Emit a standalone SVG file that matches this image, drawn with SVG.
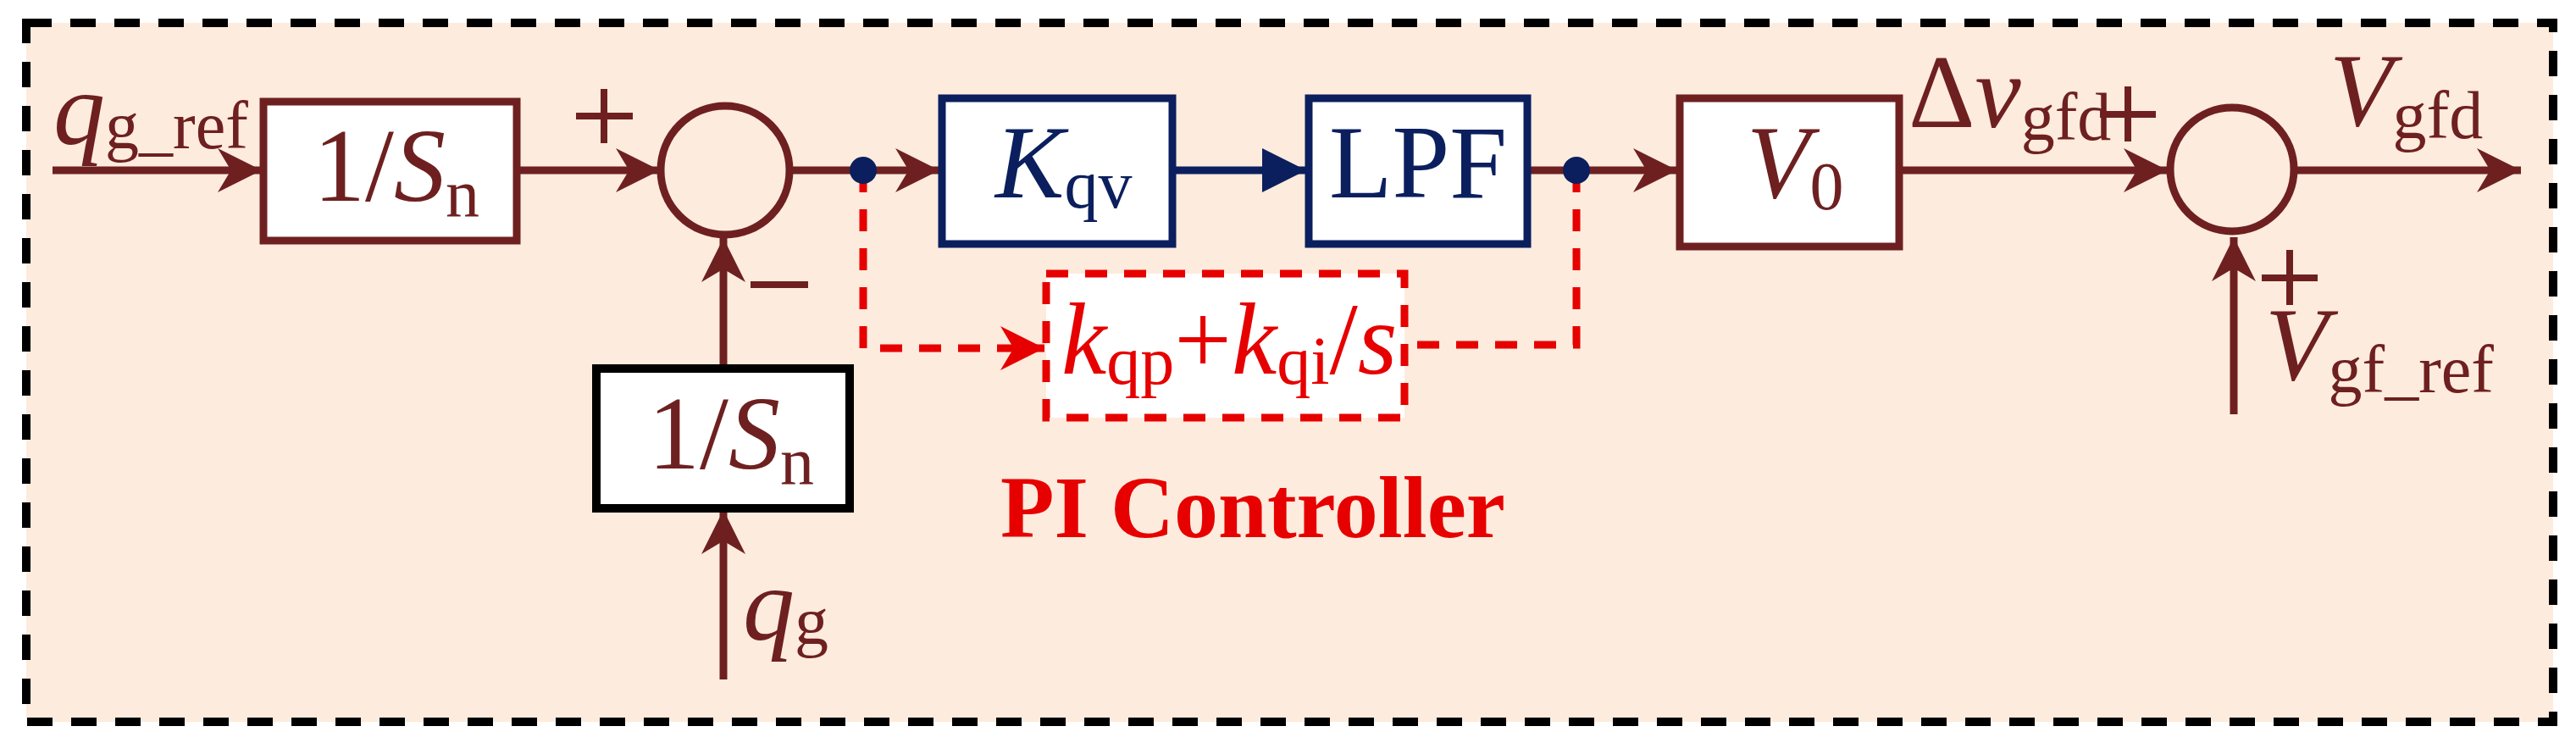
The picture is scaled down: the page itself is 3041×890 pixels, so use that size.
<svg xmlns="http://www.w3.org/2000/svg" width="3041" height="890" viewBox="0 0 3041 890">
<defs>
<style>
.br{stroke:#6E2020;stroke-width:9;fill:none}
.bl{stroke:#0B1F5E;stroke-width:9;fill:none}
.rd{stroke:#E60000;stroke-width:9;fill:none;stroke-dasharray:26 20}
.t{font-family:"Liberation Serif",serif;fill:#6E2020;font-size:122px}
.i{font-style:italic}
.s{font-size:80px}
</style>
<marker id="ab" viewBox="0 0 10 10" refX="10" refY="5" markerWidth="52" markerHeight="52" orient="auto" markerUnits="userSpaceOnUse"><path d="M0,0L10,5L0,10L3,5Z" fill="#6E2020"/></marker>
<marker id="au" viewBox="0 0 10 10" refX="10" refY="5" markerWidth="52" markerHeight="52" orient="auto" markerUnits="userSpaceOnUse"><path d="M0,0L10,5L0,10Z" fill="#0B1F5E"/></marker>
<marker id="ar" viewBox="0 0 10 10" refX="10" refY="5" markerWidth="52" markerHeight="52" orient="auto" markerUnits="userSpaceOnUse"><path d="M0,0L10,5L0,10L3,5Z" fill="#E60000"/></marker>
</defs>
<rect x="31" y="27" width="2983" height="825" fill="#FDEBDD" stroke="#000" stroke-width="10" stroke-dasharray="30 22"/>
<g id="connectors">
<line class="br" x1="62" y1="201" x2="309" y2="201" marker-end="url(#ab)"/>
<line class="br" x1="610" y1="201" x2="779" y2="201" marker-end="url(#ab)"/>
<line class="br" x1="854" y1="435" x2="854" y2="281" marker-end="url(#ab)"/>
<line class="br" x1="854" y1="802" x2="854" y2="602" marker-end="url(#ab)"/>
<line class="br" x1="931" y1="201" x2="1109" y2="201" marker-end="url(#ab)"/>
<line class="bl" x1="1384" y1="201" x2="1542" y2="201" marker-end="url(#au)"/>
<line class="br" x1="1803" y1="201" x2="1980" y2="201" marker-end="url(#ab)"/>
<line class="br" x1="2242" y1="201" x2="2559" y2="201" marker-end="url(#ab)"/>
<line class="br" x1="2708" y1="201" x2="2976" y2="201" marker-end="url(#ab)"/>
<line class="br" x1="2637" y1="489" x2="2637" y2="280" marker-end="url(#ab)"/>
<path class="rd" d="M1019,201V411H1233" marker-end="url(#ar)"/>
<path class="rd" d="M1861,201V407H1660"/>
<circle cx="1019" cy="201" r="16" fill="#0B1F5E"/>
<circle cx="1861" cy="201" r="16" fill="#0B1F5E"/>
</g>
<g id="in_ref"><text class="t" x="63" y="170"><tspan class="i">q</tspan><tspan class="s" dy="5">g_ref</tspan></text></g>
<g id="sn1"><rect x="311" y="120" width="299" height="164" fill="#fff" stroke="#6E2020" stroke-width="9"/>
<text class="t" x="370" y="237">1/<tspan class="i">S</tspan><tspan class="s" dy="18">n</tspan></text></g>
<g id="sum1"><circle cx="856" cy="201" r="76" fill="none" stroke="#6E2020" stroke-width="9"/>
<path d="M680,137H747M713,105V169M886,336H954" stroke="#6E2020" stroke-width="8"/></g>
<g id="sn2"><rect x="704" y="435" width="299" height="165" fill="#fff" stroke="#000" stroke-width="10"/>
<text class="t" x="765" y="553">1/<tspan class="i">S</tspan><tspan class="s" dy="18">n</tspan></text></g>
<g id="qg"><text class="t" x="877" y="755"><tspan class="i">q</tspan><tspan class="s" dy="5">g</tspan></text></g>
<g id="kqv"><rect x="1112" y="116" width="272" height="172" fill="#fff" stroke="#0B1F5E" stroke-width="9"/>
<text class="t" x="1175" y="233" style="fill:#0B1F5E"><tspan class="i">K</tspan><tspan class="s" dy="12">qv</tspan></text></g>
<g id="lpf"><rect x="1545" y="116" width="258" height="172" fill="#fff" stroke="#0B1F5E" stroke-width="9"/>
<text class="t" x="1674" y="233" text-anchor="middle" style="fill:#0B1F5E">LPF</text></g>
<g id="pi"><rect x="1235" y="323" width="423" height="170" fill="#fff" stroke="#E60000" stroke-width="9" stroke-dasharray="26 20"/>
<text class="t" x="1253" y="441" style="fill:#E60000;font-size:120px"><tspan class="i">k</tspan><tspan class="s" dy="12">qp</tspan><tspan dy="-12">+</tspan><tspan class="i">k</tspan><tspan class="s" dy="12">qi</tspan><tspan dy="-12">/</tspan><tspan class="i">s</tspan></text>
<text x="1181" y="634" font-family="Liberation Serif,serif" font-weight="bold" font-size="104" fill="#E60000">PI Controller</text></g>
<g id="v0"><rect x="1983" y="116" width="259" height="175" fill="#fff" stroke="#6E2020" stroke-width="9"/>
<text class="t" x="2062" y="233"><tspan class="i">V</tspan><tspan class="s" dy="14">0</tspan></text></g>
<g id="dv"><text class="t" x="2253" y="150">Δ<tspan class="i">v</tspan><tspan class="s" dy="15">gfd</tspan></text>
<path d="M2479,135H2545M2512,102V167" stroke="#6E2020" stroke-width="8"/></g>
<g id="sum2"><circle cx="2635" cy="200" r="73" fill="none" stroke="#6E2020" stroke-width="9"/>
<path d="M2670,328H2736M2703,295V360" stroke="#6E2020" stroke-width="8"/></g>
<g id="vgfd"><text class="t" x="2750" y="148"><tspan class="i">V</tspan><tspan class="s" dy="15">gfd</tspan></text></g>
<g id="vgfref"><text class="t" x="2674" y="448"><tspan class="i">V</tspan><tspan class="s" dy="15">gf_ref</tspan></text></g>
</svg>
